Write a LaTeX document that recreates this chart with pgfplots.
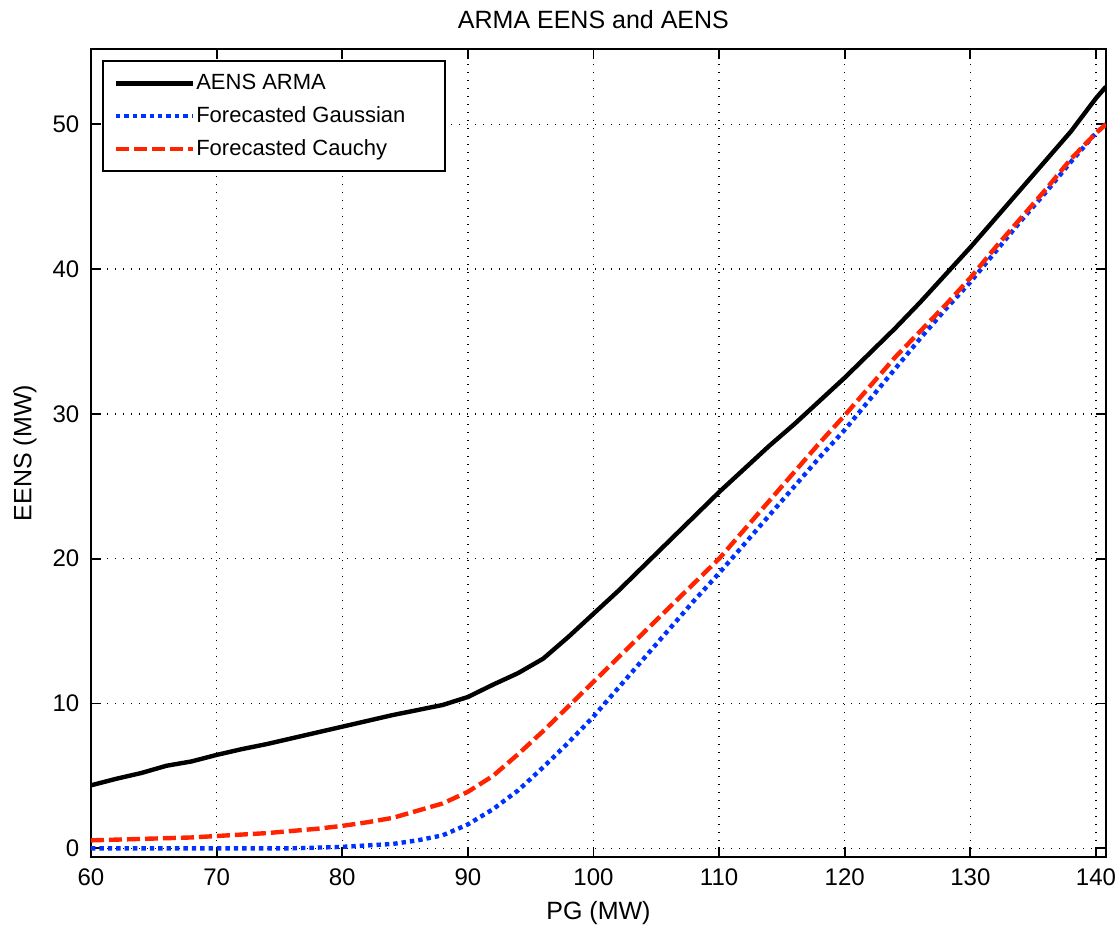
\documentclass[border=0pt]{standalone}
\usepackage{fontspec}
\setmainfont{Liberation Sans}
\usepackage{pgfplots}
\pgfplotsset{compat=1.18}
\definecolor{mblue}{RGB}{0,50,255}
\definecolor{mred}{RGB}{255,35,0}
\begin{document}
\begin{tikzpicture}
\begin{axis}[name=ax, scale only axis, width=507.5pt, height=404pt,
 xmin=60, xmax=140.8, ymin=-0.6, ymax=55.2,
 xtick={60,70,...,140}, ytick={0,10,...,50},
 grid=major, major grid style={black, line width=0.7pt, dash pattern=on 0.7pt off 3.3pt},
 axis line style={line width=0.9pt}, tick style={black, line width=0.9pt},
 tick align=inside, major tick length=5pt,
 ticklabel style={font=\fontsize{12}{14}\selectfont},
 /pgf/number format/assume math mode=true,
 xticklabel style={yshift=-2.5pt}, yticklabel style={xshift=-2.3pt},
 title={ARMA EENS and AENS},
 title style={font=\fontsize{12.5}{14}\selectfont, at={(axis description cs:0.495,1.0359)}, anchor=center, yshift=-6pt},
 xlabel={PG (MW)},
 xlabel style={font=\fontsize{12.5}{14}\selectfont, at={(axis description cs:0.5,-0.0693)}, anchor=center},
 ylabel={EENS (MW)},
 ylabel style={font=\fontsize{12.5}{14}\selectfont, at={(axis description cs:-0.065,0.5)}, anchor=center},
 legend cell align=left,
 legend style={at={(axis description cs:0,1)}, anchor=north west, xshift=5.5pt, yshift=-5.5pt,
   draw=black, line width=0.9pt, fill=white, inner xsep=5.5pt, inner ysep=3pt,
   row sep=0pt, column sep=0.5pt, nodes={inner sep=0pt}, font=\fontsize{11}{13}\selectfont},
 legend image code/.code={\draw[#1] (0pt,0pt) -- (38.5pt,0pt); \path[draw=none,fill=none] (0pt,-8.2pt) rectangle (38.5pt,8.2pt);},
]
\addplot[black, line width=2.2pt] coordinates {
(60,4.35) (62,4.8) (64,5.2) (66,5.7) (68,6.0) (70,6.45) (72,6.85) (74,7.2) (76,7.6) (78,8.0)
(80,8.4) (82,8.8) (84,9.2) (86,9.55) (88,9.9) (90,10.45) (92,11.3) (94,12.1) (96,13.1) (98,14.6)
(100,16.2) (102,17.8) (104,19.5) (106,21.2) (108,22.9) (110,24.6) (112,26.2) (114,27.8) (116,29.3) (118,30.9)
(120,32.5) (122,34.2) (124,35.9) (126,37.7) (128,39.6) (130,41.5) (132,43.5) (134,45.5) (136,47.5) (138,49.5)
(140,51.8) (140.8,52.6)};
\addlegendentry{\makebox[119pt][l]{AENS ARMA}}
\addplot[mblue, line width=2.2pt, dash pattern=on 2.2pt off 2pt] coordinates {
(60,0.0) (62,0.0) (64,0.0) (66,0.0) (68,0.0) (70,0.0) (72,0.0) (74,0.0) (76,0.0) (78,0.05)
(80,0.1) (82,0.2) (84,0.3) (86,0.55) (88,0.9) (90,1.65) (92,2.7) (94,4.0) (96,5.6) (98,7.3)
(100,9.1) (102,11.1) (104,13.1) (106,15.1) (108,17.1) (110,19.0) (112,21.0) (114,23.0) (116,25.0) (118,27.0)
(120,28.9) (122,31.0) (124,33.1) (126,35.2) (128,37.2) (130,39.1) (132,41.2) (134,43.3) (136,45.3) (138,47.4)
(140,49.4) (140.8,50.0)};
\addlegendentry{\makebox[119pt][l]{Forecasted Gaussian}}
\addplot[mred, line width=2.2pt, dash pattern=on 6.5pt off 2.5pt] coordinates {
(60,0.55) (62,0.6) (64,0.65) (66,0.7) (68,0.75) (70,0.85) (72,0.95) (74,1.05) (76,1.2) (78,1.35)
(80,1.55) (82,1.8) (84,2.1) (86,2.6) (88,3.1) (90,3.9) (92,5.0) (94,6.5) (96,8.1) (98,9.8)
(100,11.5) (102,13.2) (104,14.9) (106,16.6) (108,18.3) (110,20.0) (112,22.0) (114,24.0) (116,26.0) (118,28.0)
(120,29.9) (122,31.9) (124,33.9) (126,35.7) (128,37.5) (130,39.4) (132,41.5) (134,43.5) (136,45.5) (138,47.6)
(140,49.4) (140.8,50.0)};
\addlegendentry{\makebox[119pt][l]{Forecasted Cauchy}}
\end{axis}
\pgfresetboundingbox
\path[use as bounding box] ([shift={(-45.5pt,-38.5pt)}]ax.south west) rectangle ([shift={(6.5pt,24.5pt)}]ax.north east);
\end{tikzpicture}
\end{document}
